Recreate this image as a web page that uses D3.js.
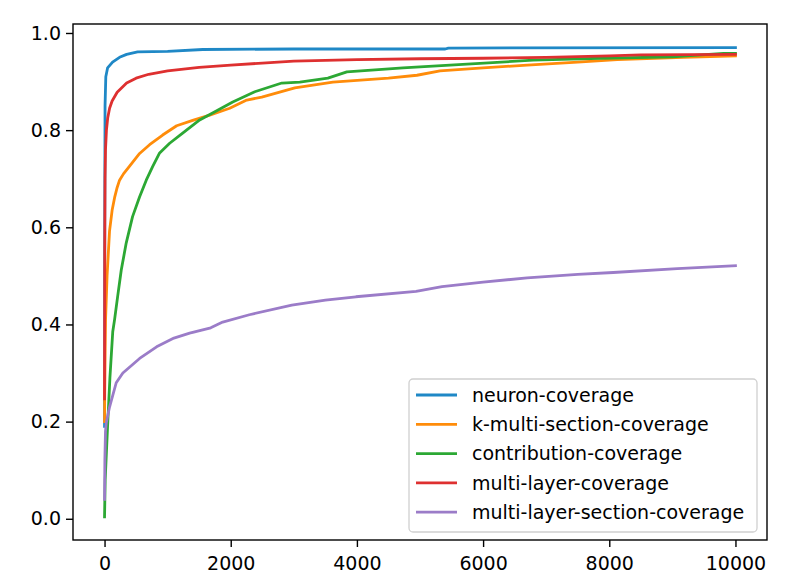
<!DOCTYPE html>
<html><head><meta charset="utf-8">
<script src="https://cdn.jsdelivr.net/npm/d3@7"></script>
<style>body{margin:0;background:#fff}svg{display:block}</style>
</head><body>
<svg id="chart" width="796" height="588"></svg>
<script>
const seriesNames = ["neuron-coverage","k-multi-section-coverage","contribution-coverage","multi-layer-coverage","multi-layer-section-coverage"];
const seriesColors = ["#1f88c6","#ff8c0a","#2ca834","#de3030","#9b7cc8"];
const xTicks = [0,2000,4000,6000,8000,10000];
const yTicks = [0.0,0.2,0.4,0.6,0.8,1.0];

const neuronCoverage = [[0,0.19],[3,0.6],[8,0.85],[20,0.91],[48,0.928],[127,0.94],[238,0.95],[350,0.956],[524,0.961],[1000,0.962],[1556,0.966],[3000,0.967],[5400,0.967],[5450,0.969],[10000,0.970]];
const kMultiSectionCoverage = [[0,0.20],[2,0.245],[10,0.35],[16,0.41],[40,0.50],[79,0.592],[120,0.635],[159,0.661],[200,0.682],[238,0.697],[300,0.71],[397,0.726],[556,0.752],[714,0.77],[921,0.79],[1143,0.809],[1397,0.820],[1667,0.831],[1984,0.845],[2254,0.862],[2492,0.868],[3016,0.887],[3619,0.899],[4500,0.907],[4952,0.913],[5317,0.922],[6000,0.928],[6698,0.934],[7500,0.940],[8127,0.945],[9175,0.950],[10000,0.953]];
const contributionCoverage = [[0,0.004],[10,0.08],[48,0.19],[85,0.29],[130,0.385],[159,0.41],[210,0.46],[265,0.512],[344,0.568],[444,0.622],[556,0.663],[661,0.697],[762,0.725],[873,0.753],[1032,0.773],[1238,0.794],[1508,0.821],[1778,0.840],[2032,0.858],[2381,0.879],[2810,0.897],[3095,0.899],[3540,0.907],[3841,0.920],[4730,0.928],[5746,0.936],[6794,0.944],[7857,0.948],[9000,0.951],[9810,0.958],[10000,0.958]];
const multiLayerCoverage = [[0,0.247],[3,0.55],[8,0.70],[15,0.76],[30,0.80],[50,0.825],[80,0.845],[120,0.86],[200,0.878],[350,0.897],[500,0.907],[700,0.915],[1000,0.922],[1500,0.929],[2000,0.934],[2500,0.938],[3000,0.942],[4000,0.945],[5000,0.947],[6000,0.948],[7000,0.950],[8000,0.953],[8500,0.955],[10000,0.956]];
const multiLayerSectionCoverage = [[0,0.04],[5,0.12],[15,0.18],[27,0.197],[79,0.23],[185,0.28],[290,0.30],[556,0.33],[825,0.354],[1100,0.372],[1349,0.382],[1683,0.393],[1873,0.405],[2295,0.420],[2968,0.44],[3500,0.450],[3984,0.457],[4937,0.468],[5349,0.478],[6000,0.487],[6698,0.496],[7500,0.503],[8063,0.507],[9079,0.515],[10000,0.521]];

const allSeries = [neuronCoverage,kMultiSectionCoverage,contributionCoverage,multiLayerCoverage,multiLayerSectionCoverage];

const svg = d3.select("#chart");
const L=73,R=767,T=24,B=540;
const x = d3.scaleLinear().domain([-500,10500]).range([L,R]);
const y = d3.scaleLinear().domain([-0.0437,1.0185]).range([B,T]);
const font = "DejaVu Sans, sans-serif";
const fs = 19;

const line = d3.line().x(d=>x(d[0])).y(d=>y(d[1]));
allSeries.forEach((s,i)=>{
  svg.append("path").attr("d",line(s)).attr("fill","none")
    .attr("stroke",seriesColors[i]).attr("stroke-width",2.8)
    .attr("stroke-linejoin","round").attr("stroke-linecap","square");
});

// axes
const xAxis = d3.axisBottom(x).tickValues(xTicks).tickSize(7).tickPadding(5).tickFormat(d3.format("d"));
const yAxis = d3.axisLeft(y).tickValues(yTicks).tickSize(7).tickPadding(5).tickFormat(d3.format(".1f"));
const gx = svg.append("g").attr("transform",`translate(0,${B})`).call(xAxis);
const gy = svg.append("g").attr("transform",`translate(${L},0)`).call(yAxis);
[gx,gy].forEach(g=>{
  g.select(".domain").remove();
  g.selectAll(".tick line").attr("stroke","#000").attr("stroke-width",1.4);
  g.selectAll(".tick text").attr("font-family",font).attr("font-size",fs).attr("fill","#000");
});
gx.selectAll(".tick text").attr("y",30).attr("dy","0");

svg.append("rect").attr("x",L).attr("y",T).attr("width",R-L).attr("height",B-T)
  .attr("fill","none").attr("stroke","#000").attr("stroke-width",1.4);

// legend
const lg = svg.append("g");
lg.append("rect").attr("x",409).attr("y",379).attr("width",348).attr("height",153)
  .attr("rx",4).attr("fill","#fff").attr("fill-opacity",0.8).attr("stroke","#d0d0d0").attr("stroke-width",1.3);
seriesNames.forEach((n,i)=>{
  const yy = 395 + i*29.3;
  lg.append("line").attr("x1",416).attr("x2",457).attr("y1",yy).attr("y2",yy)
    .attr("stroke",seriesColors[i]).attr("stroke-width",2.8);
  lg.append("text").attr("x",472).attr("y",yy).attr("dy","0.35em")
    .attr("font-family",font).attr("font-size",fs).attr("fill","#000").text(n);
});
</script>
</body></html>
